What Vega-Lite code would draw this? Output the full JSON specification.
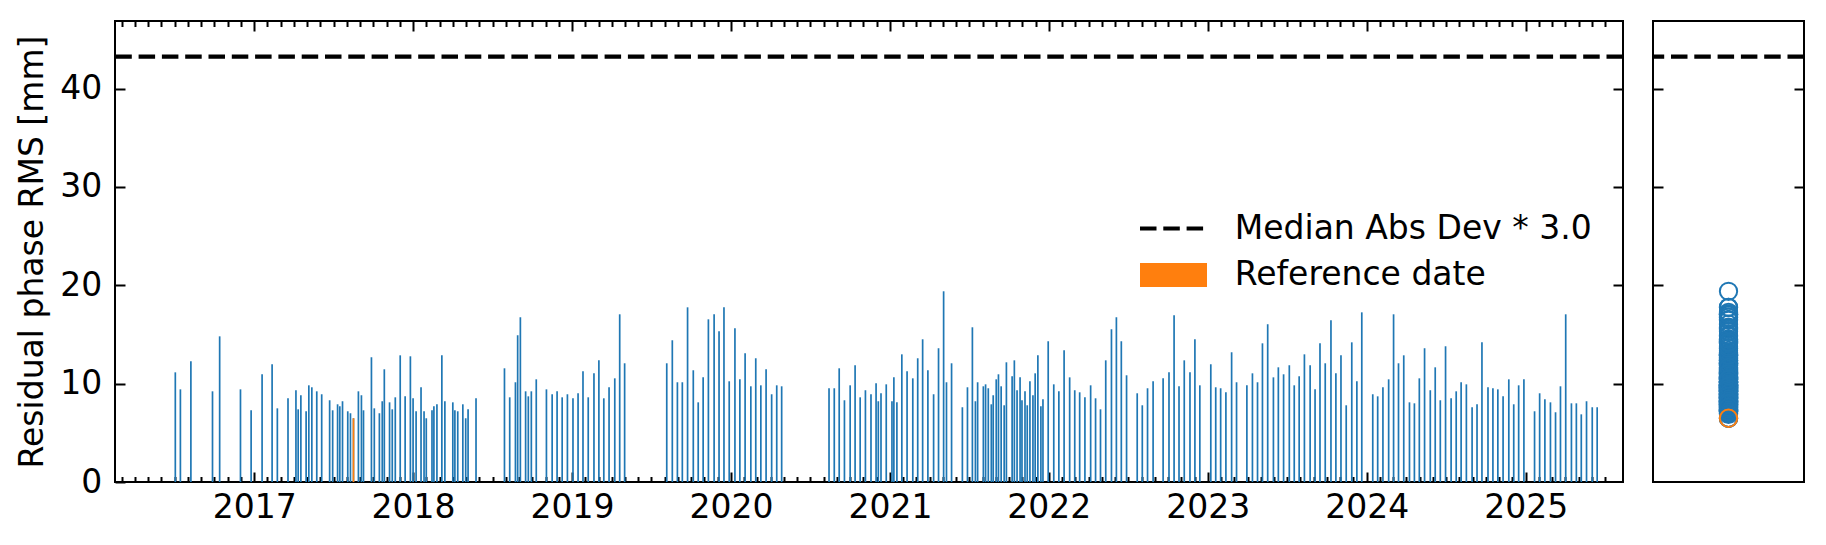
{
  "$schema": "https://vega.github.io/schema/vega-lite/v6.json",
  "background": "white",
  "autosize": {"type": "pad"},
  "padding": {"left": 15, "top": 19, "right": 5, "bottom": 5},
  "datasets": {
    "rms": [
      {"t": 2016.504, "rms": 11.15}, {"t": 2016.536, "rms": 9.42}, {"t": 2016.602, "rms": 12.27}, {"t": 2016.738, "rms": 9.22}, {"t": 2016.783, "rms": 14.81}, {"t": 2016.914, "rms": 9.42}, {"t": 2016.981, "rms": 7.29},
      {"t": 2017.050, "rms": 10.95}, {"t": 2017.113, "rms": 11.97}, {"t": 2017.146, "rms": 7.49}, {"t": 2017.213, "rms": 8.51}, {"t": 2017.263, "rms": 9.33}, {"t": 2017.277, "rms": 7.39}, {"t": 2017.294, "rms": 8.82}, {"t": 2017.327, "rms": 7.19}, {"t": 2017.344, "rms": 9.83}, {"t": 2017.363, "rms": 9.63}, {"t": 2017.394, "rms": 9.22}, {"t": 2017.425, "rms": 8.92}, {"t": 2017.475, "rms": 8.31}, {"t": 2017.494, "rms": 7.29},
      {"t": 2017.525, "rms": 7.90}, {"t": 2017.539, "rms": 7.70}, {"t": 2017.556, "rms": 8.21}, {"t": 2017.589, "rms": 7.19}, {"t": 2017.606, "rms": 6.99}, {"t": 2017.625, "rms": 6.48, "ref": true}, {"t": 2017.656, "rms": 9.22}, {"t": 2017.675, "rms": 8.82}, {"t": 2017.688, "rms": 7.29}, {"t": 2017.738, "rms": 12.68}, {"t": 2017.756, "rms": 7.49}, {"t": 2017.788, "rms": 6.99}, {"t": 2017.806, "rms": 8.21}, {"t": 2017.819, "rms": 11.46}, {"t": 2017.852, "rms": 8.10}, {"t": 2017.869, "rms": 7.39}, {"t": 2017.888, "rms": 8.61}, {"t": 2017.919, "rms": 12.88}, {"t": 2017.950, "rms": 8.71}, {"t": 2017.983, "rms": 12.78},
      {"t": 2018.000, "rms": 8.51}, {"t": 2018.019, "rms": 7.19}, {"t": 2018.050, "rms": 9.63}, {"t": 2018.069, "rms": 7.19}, {"t": 2018.083, "rms": 6.48}, {"t": 2018.119, "rms": 7.29}, {"t": 2018.131, "rms": 7.70}, {"t": 2018.150, "rms": 7.90}, {"t": 2018.181, "rms": 12.88}, {"t": 2018.200, "rms": 8.21}, {"t": 2018.250, "rms": 8.10}, {"t": 2018.263, "rms": 7.29}, {"t": 2018.281, "rms": 7.19}, {"t": 2018.313, "rms": 7.90}, {"t": 2018.331, "rms": 6.48}, {"t": 2018.346, "rms": 7.39}, {"t": 2018.396, "rms": 8.51},
      {"t": 2018.575, "rms": 11.56}, {"t": 2018.608, "rms": 8.61}, {"t": 2018.644, "rms": 10.14}, {"t": 2018.658, "rms": 14.92}, {"t": 2018.675, "rms": 16.75}, {"t": 2018.708, "rms": 9.22}, {"t": 2018.725, "rms": 8.71}, {"t": 2018.744, "rms": 9.22}, {"t": 2018.775, "rms": 10.44}, {"t": 2018.839, "rms": 9.42}, {"t": 2018.875, "rms": 8.92}, {"t": 2018.906, "rms": 9.22}, {"t": 2018.938, "rms": 8.61}, {"t": 2018.971, "rms": 8.92},
      {"t": 2019.006, "rms": 8.51}, {"t": 2019.038, "rms": 9.02}, {"t": 2019.069, "rms": 11.26}, {"t": 2019.102, "rms": 8.61}, {"t": 2019.138, "rms": 11.05}, {"t": 2019.169, "rms": 12.37}, {"t": 2019.200, "rms": 8.51}, {"t": 2019.233, "rms": 9.63}, {"t": 2019.269, "rms": 10.54}, {"t": 2019.300, "rms": 17.05}, {"t": 2019.331, "rms": 12.07},
      {"t": 2019.596, "rms": 12.07}, {"t": 2019.631, "rms": 14.41}, {"t": 2019.663, "rms": 10.14}, {"t": 2019.694, "rms": 10.14}, {"t": 2019.727, "rms": 17.76}, {"t": 2019.763, "rms": 11.36}, {"t": 2019.794, "rms": 8.10}, {"t": 2019.825, "rms": 10.64}, {"t": 2019.858, "rms": 16.54}, {"t": 2019.894, "rms": 17.05}, {"t": 2019.925, "rms": 15.32}, {"t": 2019.956, "rms": 17.76}, {"t": 2019.989, "rms": 10.24},
      {"t": 2020.025, "rms": 15.63}, {"t": 2020.056, "rms": 10.44}, {"t": 2020.089, "rms": 13.09}, {"t": 2020.125, "rms": 9.73}, {"t": 2020.156, "rms": 12.58}, {"t": 2020.188, "rms": 9.83}, {"t": 2020.221, "rms": 11.46}, {"t": 2020.256, "rms": 8.92}, {"t": 2020.288, "rms": 9.83}, {"t": 2020.319, "rms": 9.73},
      {"t": 2020.617, "rms": 9.53}, {"t": 2020.650, "rms": 9.53}, {"t": 2020.681, "rms": 11.56}, {"t": 2020.714, "rms": 8.31}, {"t": 2020.750, "rms": 9.83}, {"t": 2020.781, "rms": 11.87}, {"t": 2020.813, "rms": 8.61}, {"t": 2020.846, "rms": 9.33}, {"t": 2020.881, "rms": 8.92}, {"t": 2020.913, "rms": 10.04}, {"t": 2020.927, "rms": 8.21}, {"t": 2020.944, "rms": 9.02}, {"t": 2020.977, "rms": 9.93},
      {"t": 2021.013, "rms": 8.21}, {"t": 2021.025, "rms": 10.64}, {"t": 2021.044, "rms": 8.10}, {"t": 2021.075, "rms": 12.98}, {"t": 2021.108, "rms": 11.26}, {"t": 2021.144, "rms": 10.54}, {"t": 2021.175, "rms": 12.58}, {"t": 2021.206, "rms": 14.51}, {"t": 2021.239, "rms": 11.36}, {"t": 2021.275, "rms": 8.92}, {"t": 2021.306, "rms": 13.60}, {"t": 2021.338, "rms": 19.39}, {"t": 2021.356, "rms": 10.14}, {"t": 2021.388, "rms": 12.07}, {"t": 2021.456, "rms": 7.60}, {"t": 2021.488, "rms": 9.63}, {"t": 2021.519, "rms": 15.73}, {"t": 2021.538, "rms": 8.21}, {"t": 2021.552, "rms": 10.14},
      {"t": 2021.588, "rms": 9.73}, {"t": 2021.602, "rms": 9.93}, {"t": 2021.619, "rms": 9.53}, {"t": 2021.638, "rms": 7.90}, {"t": 2021.650, "rms": 8.82}, {"t": 2021.669, "rms": 10.44}, {"t": 2021.683, "rms": 10.95}, {"t": 2021.700, "rms": 9.73}, {"t": 2021.719, "rms": 7.80}, {"t": 2021.733, "rms": 12.17}, {"t": 2021.769, "rms": 10.75}, {"t": 2021.783, "rms": 12.37}, {"t": 2021.800, "rms": 9.33}, {"t": 2021.819, "rms": 10.64}, {"t": 2021.831, "rms": 8.31}, {"t": 2021.850, "rms": 9.22}, {"t": 2021.864, "rms": 7.80}, {"t": 2021.881, "rms": 10.24}, {"t": 2021.900, "rms": 8.82}, {"t": 2021.914, "rms": 11.05}, {"t": 2021.931, "rms": 12.88}, {"t": 2021.950, "rms": 7.70}, {"t": 2021.963, "rms": 8.41}, {"t": 2021.996, "rms": 14.31},
      {"t": 2022.031, "rms": 9.93}, {"t": 2022.063, "rms": 9.22}, {"t": 2022.096, "rms": 13.39}, {"t": 2022.131, "rms": 10.64}, {"t": 2022.163, "rms": 9.33}, {"t": 2022.194, "rms": 9.12}, {"t": 2022.227, "rms": 8.61}, {"t": 2022.263, "rms": 9.83}, {"t": 2022.294, "rms": 8.51}, {"t": 2022.325, "rms": 7.39}, {"t": 2022.358, "rms": 12.37}, {"t": 2022.394, "rms": 15.53}, {"t": 2022.425, "rms": 16.75}, {"t": 2022.456, "rms": 14.31}, {"t": 2022.489, "rms": 10.85},
      {"t": 2022.556, "rms": 9.02}, {"t": 2022.588, "rms": 7.80}, {"t": 2022.621, "rms": 9.53}, {"t": 2022.656, "rms": 10.24}, {"t": 2022.719, "rms": 10.54}, {"t": 2022.756, "rms": 11.15}, {"t": 2022.788, "rms": 16.95}, {"t": 2022.819, "rms": 9.73}, {"t": 2022.852, "rms": 12.37}, {"t": 2022.888, "rms": 11.15}, {"t": 2022.919, "rms": 14.51}, {"t": 2022.950, "rms": 9.83},
      {"t": 2023.019, "rms": 11.97}, {"t": 2023.050, "rms": 9.63}, {"t": 2023.081, "rms": 9.53}, {"t": 2023.114, "rms": 9.12}, {"t": 2023.150, "rms": 13.19}, {"t": 2023.181, "rms": 10.14}, {"t": 2023.246, "rms": 9.83}, {"t": 2023.281, "rms": 11.05}, {"t": 2023.313, "rms": 10.14}, {"t": 2023.344, "rms": 14.10}, {"t": 2023.377, "rms": 16.04}, {"t": 2023.413, "rms": 10.64}, {"t": 2023.444, "rms": 11.66}, {"t": 2023.477, "rms": 10.95}, {"t": 2023.513, "rms": 11.87}, {"t": 2023.544, "rms": 9.83}, {"t": 2023.575, "rms": 10.75}, {"t": 2023.608, "rms": 12.98}, {"t": 2023.644, "rms": 11.87}, {"t": 2023.675, "rms": 9.42}, {"t": 2023.706, "rms": 14.10}, {"t": 2023.739, "rms": 12.07}, {"t": 2023.775, "rms": 16.44}, {"t": 2023.806, "rms": 11.05}, {"t": 2023.838, "rms": 12.88}, {"t": 2023.871, "rms": 7.80}, {"t": 2023.906, "rms": 14.20}, {"t": 2023.938, "rms": 10.24}, {"t": 2023.969, "rms": 17.25},
      {"t": 2024.038, "rms": 8.92}, {"t": 2024.069, "rms": 8.71}, {"t": 2024.102, "rms": 9.63}, {"t": 2024.138, "rms": 10.44}, {"t": 2024.169, "rms": 17.05}, {"t": 2024.200, "rms": 12.07}, {"t": 2024.233, "rms": 12.88}, {"t": 2024.269, "rms": 8.10}, {"t": 2024.300, "rms": 8.00}, {"t": 2024.331, "rms": 10.54}, {"t": 2024.364, "rms": 13.60}, {"t": 2024.400, "rms": 9.33}, {"t": 2024.431, "rms": 11.66}, {"t": 2024.463, "rms": 8.31}, {"t": 2024.496, "rms": 13.80}, {"t": 2024.531, "rms": 8.51}, {"t": 2024.563, "rms": 9.22}, {"t": 2024.594, "rms": 10.14}, {"t": 2024.627, "rms": 9.93}, {"t": 2024.663, "rms": 7.60}, {"t": 2024.694, "rms": 7.90}, {"t": 2024.725, "rms": 14.20}, {"t": 2024.763, "rms": 9.63}, {"t": 2024.794, "rms": 9.53}, {"t": 2024.825, "rms": 9.42}, {"t": 2024.858, "rms": 8.71}, {"t": 2024.894, "rms": 10.44}, {"t": 2024.925, "rms": 7.90}, {"t": 2024.956, "rms": 9.83}, {"t": 2024.989, "rms": 10.44},
      {"t": 2025.056, "rms": 7.19}, {"t": 2025.088, "rms": 9.02}, {"t": 2025.121, "rms": 8.41}, {"t": 2025.156, "rms": 8.10}, {"t": 2025.188, "rms": 7.09}, {"t": 2025.219, "rms": 9.73}, {"t": 2025.252, "rms": 17.05}, {"t": 2025.288, "rms": 8.00}, {"t": 2025.319, "rms": 8.00}, {"t": 2025.350, "rms": 6.88}, {"t": 2025.383, "rms": 8.21}, {"t": 2025.419, "rms": 7.60}, {"t": 2025.450, "rms": 7.60}
    ],
    "threshold": [{"mad3": 43.24}]
  },
  "spacing": 22,
  "hconcat": [
    {
      "width": 1508,
      "height": 461,
      "resolve": {"axis": {"x": "independent", "y": "independent"}},
      "layer": [
        {
          "data": {"name": "rms"},
          "mark": {"type": "bar", "orient": "vertical", "size": 1.7, "color": "#1f77b4"},
          "encoding": {
            "x": {
              "field": "t", "type": "quantitative",
              "scale": {"domain": [2016.156, 2025.581], "nice": false, "zero": false},
              "axis": {
                "orient": "bottom", "title": null,
                "values": [2016.1667,2016.25,2016.3333,2016.4167,2016.5,2016.5833,2016.6667,2016.75,2016.8333,2016.9167,2017,2017.0833,2017.1667,2017.25,2017.3333,2017.4167,2017.5,2017.5833,2017.6667,2017.75,2017.8333,2017.9167,2018,2018.0833,2018.1667,2018.25,2018.3333,2018.4167,2018.5,2018.5833,2018.6667,2018.75,2018.8333,2018.9167,2019,2019.0833,2019.1667,2019.25,2019.3333,2019.4167,2019.5,2019.5833,2019.6667,2019.75,2019.8333,2019.9167,2020,2020.0833,2020.1667,2020.25,2020.3333,2020.4167,2020.5,2020.5833,2020.6667,2020.75,2020.8333,2020.9167,2021,2021.0833,2021.1667,2021.25,2021.3333,2021.4167,2021.5,2021.5833,2021.6667,2021.75,2021.8333,2021.9167,2022,2022.0833,2022.1667,2022.25,2022.3333,2022.4167,2022.5,2022.5833,2022.6667,2022.75,2022.8333,2022.9167,2023,2023.0833,2023.1667,2023.25,2023.3333,2023.4167,2023.5,2023.5833,2023.6667,2023.75,2023.8333,2023.9167,2024,2024.0833,2024.1667,2024.25,2024.3333,2024.4167,2024.5,2024.5833,2024.6667,2024.75,2024.8333,2024.9167,2025,2025.0833,2025.1667,2025.25,2025.3333,2025.4167,2025.5],
                "tickSize": {"condition": {"test": "abs(datum.value - round(datum.value)) < 0.001", "value": -10}, "value": -5.5},
                "labelExpr": "abs(datum.value - round(datum.value)) < 0.001 ? format(round(datum.value), 'd') : ''",
                "labelPadding": 19, "labelOverlap": false, "labelFlush": false, "labelBound": false
              }
            },
            "y": {
              "field": "rms", "type": "quantitative",
              "scale": {"domain": [0, 46.87], "nice": false, "zero": true},
              "axis": {
                "orient": "left", "title": "Residual phase RMS [mm]",
                "values": [0, 10, 20, 30, 40], "format": "d",
                "tickSize": -10, "labelPadding": 23.3, "titlePadding": 10, "labelOverlap": false
              }
            }
          }
        },
        {
          "data": {"name": "rms"},
          "transform": [{"filter": "datum.ref === true"}],
          "mark": {"type": "bar", "orient": "vertical", "size": 1.7},
          "encoding": {
            "x": {"field": "t", "type": "quantitative", "axis": null},
            "y": {"field": "rms", "type": "quantitative", "axis": null},
            "color": {
              "datum": "Reference date", "type": "nominal",
              "scale": {"domain": ["Median Abs Dev * 3.0", "Reference date"], "range": ["black", "#ff7f0e"]},
              "legend": {
                "title": null, "orient": "none", "legendX": 1042, "legendY": 191,
                "symbolType": "M-2,0H2", "symbolSize": 1122, "symbolStrokeWidth": 4.2,
                "labelFont": "DejaVu Sans", "labelFontSize": 33, "labelColor": "black", "labelLimit": 2000,
                "labelOffset": 44.75, "rowPadding": -19.5, "padding": 0,
                "encode": {
                  "symbols": {
                    "update": {
                      "stroke": {"signal": "datum.value === 'Reference date' ? '#ff7f0e' : 'black'"},
                      "fill": {"value": "transparent"},
                      "strokeWidth": {"signal": "datum.value === 'Reference date' ? 24 : 4.2"},
                      "strokeDash": {"signal": "datum.value === 'Reference date' ? [1, 0] : [16.5, 6.8]"},
                      "opacity": {"value": 1}
                    }
                  }
                }
              }
            }
          }
        },
        {
          "data": {"name": "threshold"},
          "mark": {"type": "rule", "strokeDash": [16.5, 6.8], "strokeWidth": 4.2},
          "encoding": {
            "y": {
              "field": "mad3", "type": "quantitative",
              "axis": {"orient": "right", "title": null, "labels": false, "values": [10, 20, 30, 40], "tickSize": -10}
            },
            "color": {"datum": "Median Abs Dev * 3.0", "type": "nominal", "legend": {"title": null}}
          }
        },
        {
          "data": {"name": "rms"},
          "mark": {"type": "point", "opacity": 0},
          "encoding": {
            "x": {
              "field": "t", "type": "quantitative",
              "axis": {
                "orient": "top", "title": null, "labels": false,
                "values": [2016.1667,2016.25,2016.3333,2016.4167,2016.5,2016.5833,2016.6667,2016.75,2016.8333,2016.9167,2017,2017.0833,2017.1667,2017.25,2017.3333,2017.4167,2017.5,2017.5833,2017.6667,2017.75,2017.8333,2017.9167,2018,2018.0833,2018.1667,2018.25,2018.3333,2018.4167,2018.5,2018.5833,2018.6667,2018.75,2018.8333,2018.9167,2019,2019.0833,2019.1667,2019.25,2019.3333,2019.4167,2019.5,2019.5833,2019.6667,2019.75,2019.8333,2019.9167,2020,2020.0833,2020.1667,2020.25,2020.3333,2020.4167,2020.5,2020.5833,2020.6667,2020.75,2020.8333,2020.9167,2021,2021.0833,2021.1667,2021.25,2021.3333,2021.4167,2021.5,2021.5833,2021.6667,2021.75,2021.8333,2021.9167,2022,2022.0833,2022.1667,2022.25,2022.3333,2022.4167,2022.5,2022.5833,2022.6667,2022.75,2022.8333,2022.9167,2023,2023.0833,2023.1667,2023.25,2023.3333,2023.4167,2023.5,2023.5833,2023.6667,2023.75,2023.8333,2023.9167,2024,2024.0833,2024.1667,2024.25,2024.3333,2024.4167,2024.5,2024.5833,2024.6667,2024.75,2024.8333,2024.9167,2025,2025.0833,2025.1667,2025.25,2025.3333,2025.4167,2025.5],
                "tickSize": {"condition": {"test": "abs(datum.value - round(datum.value)) < 0.001", "value": -10}, "value": -5.5}
              }
            },
            "y": {"field": "rms", "type": "quantitative", "axis": null}
          }
        }
      ]
    },
    {
      "width": 151,
      "height": 461,
      "resolve": {"axis": {"y": "independent"}},
      "layer": [
        {
          "data": {"name": "rms"},
          "mark": {"type": "point", "filled": false, "size": 300, "strokeWidth": 2, "color": "#1f77b4", "opacity": 1},
          "encoding": {
            "x": {"datum": 0, "type": "quantitative", "scale": {"domain": [-1, 1]}, "axis": null},
            "y": {
              "field": "rms", "type": "quantitative",
              "scale": {"domain": [0, 46.87], "nice": false, "zero": true},
              "axis": {"orient": "left", "title": null, "labels": false, "values": [10, 20, 30, 40], "tickSize": -10}
            }
          }
        },
        {
          "data": {"name": "rms"},
          "transform": [{"filter": "datum.ref === true"}],
          "mark": {"type": "point", "filled": false, "size": 300, "strokeWidth": 2, "color": "#ff7f0e", "opacity": 1},
          "encoding": {
            "x": {"datum": 0, "type": "quantitative", "axis": null},
            "y": {"field": "rms", "type": "quantitative", "axis": null}
          }
        },
        {
          "data": {"name": "threshold"},
          "mark": {"type": "rule", "strokeDash": [16.5, 6.8], "strokeWidth": 4.2, "color": "black"},
          "encoding": {
            "y": {
              "field": "mad3", "type": "quantitative",
              "axis": {"orient": "right", "title": null, "labels": false, "values": [10, 20, 30, 40], "tickSize": -10}
            }
          }
        }
      ]
    }
  ],
  "config": {
    "view": {"stroke": "black", "strokeWidth": 2},
    "axis": {
      "domain": false, "grid": false, "tickColor": "black", "tickWidth": 2,
      "labelColor": "black", "labelFont": "DejaVu Sans", "labelFontSize": 33,
      "titleFont": "DejaVu Sans", "titleFontSize": 33, "titleFontWeight": "normal", "titleColor": "black",
      "minExtent": 0
    },
    "legend": {"labelFont": "DejaVu Sans"}
  }
}
